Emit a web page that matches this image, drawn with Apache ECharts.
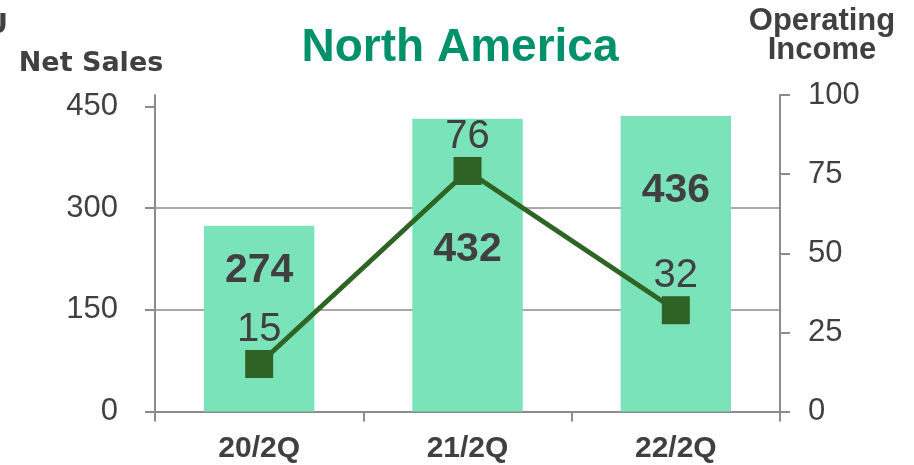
<!DOCTYPE html>
<html>
<head>
<meta charset="utf-8">
<script src="https://cdn.jsdelivr.net/npm/echarts@6/dist/echarts.min.js"></script>
<style>
  html, body { margin: 0; padding: 0; background: #fff; }
  #chart { width: 914px; height: 465px; }
</style>
</head>
<body>
<div id="chart"></div>
<script>
// Quarterly results, North America
const categories = ['20/2Q', '21/2Q', '22/2Q'];
const netSales = [274, 432, 436];
const operatingIncome = [15, 76, 32];
const salesTicks = [0, 150, 300, 450];
const incomeTicks = [0, 25, 50, 75, 100];

// vertical nudges for the sales labels so they clear the income line
const salesLabelShift = [24, 110, 54];

const FONT = '"Liberation Sans", Arial, sans-serif';
const TEXT = '#404040';
const AXIS = '#8c8c8c';

const chart = echarts.init(document.getElementById('chart'), null, { renderer: 'canvas' });

chart.setOption({
  backgroundColor: '#ffffff',
  animation: false,
  grid: { left: 155, right: 134, top: 95, bottom: 53.5, containLabel: false },
  graphic: [
    { type: 'text',
      style: { x: 460, y: 48, text: 'North America', font: 'bold 46px ' + FONT, fill: '#00916a', align: 'center', verticalAlign: 'middle' } },
    { type: 'text',
      style: { x: 91, y: 64, text: 'Net Sales', font: 'bold 27px "DejaVu Sans", sans-serif', fill: TEXT, align: 'center', verticalAlign: 'middle' } },
    { type: 'text',
      style: { x: -14, y: 26, text: 'U', font: 'bold 27px "DejaVu Sans", sans-serif', fill: TEXT, align: 'left', verticalAlign: 'middle' } },
    { type: 'text',
      style: { x: 822, y: 36, text: 'Operating\nIncome', font: 'bold 31px ' + FONT, lineHeight: 29, fill: TEXT, align: 'center', verticalAlign: 'middle' } }
  ],
  xAxis: {
    type: 'category',
    data: categories,
    boundaryGap: true,
    axisLine: { show: true, lineStyle: { color: AXIS, width: 2 } },
    axisTick: { show: true, alignWithLabel: false, length: 10, lineStyle: { color: AXIS, width: 2 } },
    axisLabel: { margin: 22, color: TEXT, fontFamily: FONT, fontWeight: 'bold', fontSize: 30 },
    splitLine: { show: false }
  },
  yAxis: [
    {
      type: 'value',
      min: 0,
      max: 467,
      position: 'left',
      axisLine: { show: true, lineStyle: { color: AXIS, width: 2 } },
      axisTick: { show: true, length: 10, customValues: salesTicks, lineStyle: { color: AXIS, width: 2 } },
      axisLabel: { margin: 37, color: TEXT, fontFamily: FONT, fontSize: 31, customValues: salesTicks },
      splitLine: { show: true, showMinLine: false, showMaxLine: false, lineStyle: { color: '#a8a8a8', width: 2 } }
    },
    {
      type: 'value',
      min: 0,
      max: 100,
      interval: 25,
      position: 'right',
      axisLine: { show: true, lineStyle: { color: AXIS, width: 2 } },
      axisTick: { show: true, length: 10, customValues: incomeTicks, lineStyle: { color: AXIS, width: 2 } },
      axisLabel: { margin: 28, color: TEXT, fontFamily: FONT, fontSize: 31, customValues: incomeTicks },
      splitLine: { show: false }
    }
  ],
  series: [
    {
      name: 'Net Sales',
      type: 'bar',
      yAxisIndex: 0,
      barWidth: '53%',
      itemStyle: { color: '#7ae3ba' },
      data: netSales.map((v, i) => ({
        value: v,
        label: { offset: [0, salesLabelShift[i]] }
      })),
      label: {
        show: true,
        position: 'insideTop',
        distance: 0,
        color: TEXT,
        fontFamily: FONT,
        fontWeight: 'bold',
        fontSize: 41
      },
      z: 2
    },
    {
      name: 'Operating Income',
      type: 'line',
      yAxisIndex: 1,
      data: operatingIncome,
      symbol: 'rect',
      symbolSize: 28,
      lineStyle: { color: '#2e6424', width: 5 },
      itemStyle: { color: '#2f6325' },
      label: {
        show: true,
        position: 'top',
        distance: 0,
        color: TEXT,
        fontFamily: FONT,
        fontSize: 40
      },
      z: 5
    }
  ]
});
</script>
</body>
</html>
